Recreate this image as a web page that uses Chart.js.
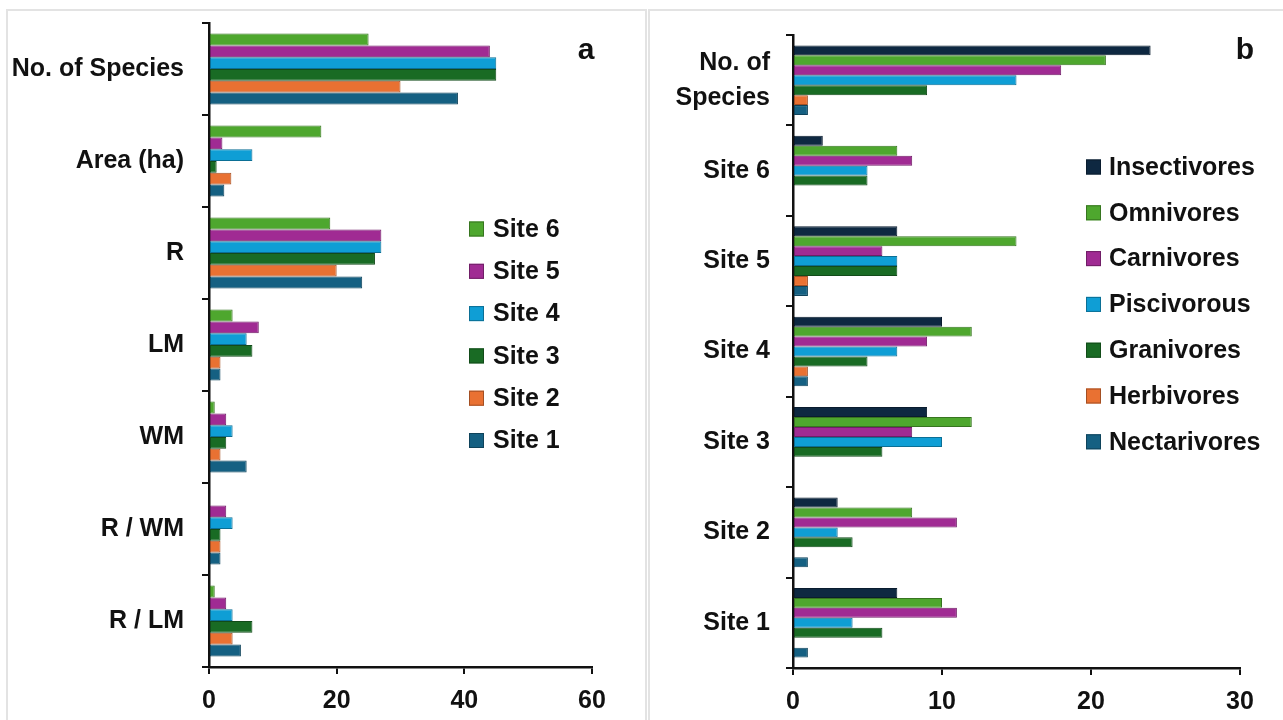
<!DOCTYPE html>
<html>
<head>
<meta charset="utf-8">
<script src="https://cdn.jsdelivr.net/npm/chart.js@4"></script>
<style>
  html, body { margin: 0; padding: 0; background: #fff; }
  body { width: 1283px; height: 720px; position: relative; overflow: hidden; }
  .frame { position: absolute; border: 0 solid #e3e3e3; box-sizing: border-box; }
  #frameA { left: 6px; top: 9px; width: 641px; height: 720px; border-width: 2px 2px 0 2px; }
  #frameB { left: 648px; top: 9px; width: 640px; height: 720px; border-width: 2px 0 0 2px; }
  .panel { position: absolute; top: 0; height: 720px; }
  #panelA { left: 0; width: 645px; }
  #panelB { left: 645px; width: 638px; }
</style>
</head>
<body>
<div class="frame" id="frameA"></div>
<div class="frame" id="frameB"></div>
<div class="panel" id="panelA"><canvas id="chartA"></canvas></div>
<div class="panel" id="panelB"><canvas id="chartB"></canvas></div>
<script>
// ---- Panel a: landscape metrics per site ----
const metricLabels = ['No. of Species', 'Area (ha)', 'R', 'LM', 'WM', 'R / WM', 'R / LM'];
const site6 = [25, 17.6, 19, 3.7, 0.9, 0, 0.9];
const site5 = [44, 2.1, 27, 7.8, 2.7, 2.7, 2.7];
const site4 = [45, 6.8, 27, 5.9, 3.7, 3.7, 3.7];
const site3 = [45, 1.2, 26, 6.8, 2.7, 1.8, 6.8];
const site2 = [30, 3.5, 20, 1.8, 1.8, 1.8, 3.7];
const site1 = [39, 2.4, 24, 1.8, 5.9, 1.8, 5.0];
const ticksA = [0, 20, 40, 60];

// ---- Panel b: feeding guilds per site ----
const guildCategories = [['No. of', 'Species'], 'Site 6', 'Site 5', 'Site 4', 'Site 3', 'Site 2', 'Site 1'];
const insectivores = [24, 2, 7, 10, 9, 3, 7];
const omnivores    = [21, 7, 15, 12, 12, 8, 10];
const carnivores   = [18, 8, 6, 9, 8, 11, 11];
const piscivorous  = [15, 5, 7, 7, 10, 3, 4];
const granivores   = [9, 5, 7, 5, 6, 4, 6];
const herbivores   = [1, 0, 1, 1, 0, 0, 0];
const nectarivores = [1, 0, 1, 1, 0, 1, 1];
const ticksB = [0, 10, 20, 30];

const C = {
  navy: '#0E2841', blue: '#156082', orange: '#E97132', dkgreen: '#196B24',
  cyan: '#0F9ED5', purple: '#A02B93', green: '#4EA72E'
};

function darker(hex, f) {
  const n = parseInt(hex.slice(1), 16);
  const r = Math.round(((n >> 16) & 255) * f), g = Math.round(((n >> 8) & 255) * f), b = Math.round((n & 255) * f);
  return `rgb(${r},${g},${b})`;
}

const F = { family: '"Liberation Sans", Arial, sans-serif', size: 25, big: 30 };
const INK = '#111111';

function ds(label, data, color) {
  return {
    label, data,
    backgroundColor: color,
    borderColor: darker(color, 0.7),
    borderWidth: ctx => (ctx.raw ? 1 : 0),
    borderSkipped: false,
    categoryPercentage: 0.77,
    barPercentage: 1.0
  };
}

// Legend block and panel letter drawn inside the plot at fixed spots
const sideLegend = {
  id: 'sideLegend',
  afterDraw(chart, args, o) {
    const ctx = chart.ctx;
    ctx.save();
    ctx.font = `bold ${F.size}px ${F.family}`;
    ctx.textBaseline = 'middle';
    ctx.textAlign = 'left';
    chart.data.datasets.forEach((d, i) => {
      const y = o.y + i * o.gap;
      ctx.fillStyle = d.backgroundColor;
      ctx.fillRect(o.x, y - o.box / 2, o.box, o.box);
      ctx.strokeStyle = d.borderColor;
      ctx.lineWidth = 1;
      ctx.strokeRect(o.x + 0.5, y - o.box / 2 + 0.5, o.box - 1, o.box - 1);
      ctx.fillStyle = INK;
      ctx.fillText(d.label, o.x + o.box + o.textGap, y + 1);
    });
    ctx.font = `bold ${F.big}px ${F.family}`;
    ctx.textAlign = 'center';
    ctx.fillText(o.letter, o.letterX, o.letterY);
    ctx.restore();
  }
};

function buildOptions(cfg) {
  return {
    indexAxis: 'y',
    responsive: true,
    maintainAspectRatio: false,
    animation: false,
    layout: { padding: { top: cfg.top, right: cfg.right, left: 0, bottom: 0 } },
    plugins: {
      legend: { display: false },
      tooltip: { enabled: false },
      sideLegend: cfg.legend
    },
    scales: {
      x: {
        min: 0, max: cfg.max,
        afterBuildTicks: s => { s.ticks = cfg.ticks.map(v => ({ value: v })); },
        afterFit: s => { s.height = cfg.xHeight; s.paddingLeft = 0; s.paddingRight = 0; },
        border: { display: true, color: INK, width: 2.5 },
        grid: { drawOnChartArea: false, drawTicks: true, tickLength: 7, color: INK, lineWidth: 2 },
        ticks: { color: INK, padding: 12, font: { family: F.family, size: F.size, weight: 'bold' } }
      },
      y: {
        afterFit: s => { s.width = cfg.yWidth; s.paddingTop = 0; s.paddingBottom = 0; },
        border: { display: true, color: INK, width: 2.5 },
        grid: { offset: true, drawOnChartArea: false, drawTicks: true, tickLength: 7, color: INK, lineWidth: 2 },
        ticks: { color: INK, padding: cfg.yPad, font: { family: F.family, size: F.size, weight: 'bold', lineHeight: 1.4 } }
      }
    }
  };
}

new Chart(document.getElementById('chartA'), {
  type: 'bar',
  data: {
    labels: metricLabels,
    datasets: [
      ds('Site 6', site6, C.green),
      ds('Site 5', site5, C.purple),
      ds('Site 4', site4, C.cyan),
      ds('Site 3', site3, C.dkgreen),
      ds('Site 2', site2, C.orange),
      ds('Site 1', site1, C.blue)
    ]
  },
  options: buildOptions({
    max: 60, ticks: ticksA, top: 23, right: 53, xHeight: 53, yWidth: 209, yPad: 18,
    legend: { x: 469, y: 229, gap: 42.3, box: 15, textGap: 9, letter: 'a', letterX: 586, letterY: 51 }
  }),
  plugins: [sideLegend]
});

new Chart(document.getElementById('chartB'), {
  type: 'bar',
  data: {
    labels: guildCategories,
    datasets: [
      ds('Insectivores', insectivores, C.navy),
      ds('Omnivores', omnivores, C.green),
      ds('Carnivores', carnivores, C.purple),
      ds('Piscivorous', piscivorous, C.cyan),
      ds('Granivores', granivores, C.dkgreen),
      ds('Herbivores', herbivores, C.orange),
      ds('Nectarivores', nectarivores, C.blue)
    ]
  },
  options: buildOptions({
    max: 30, ticks: ticksB, top: 35, right: 43, xHeight: 52, yWidth: 148, yPad: 16,
    legend: { x: 441, y: 167, gap: 45.8, box: 15, textGap: 8, letter: 'b', letterX: 600, letterY: 51 }
  }),
  plugins: [sideLegend]
});
</script>
</body>
</html>
